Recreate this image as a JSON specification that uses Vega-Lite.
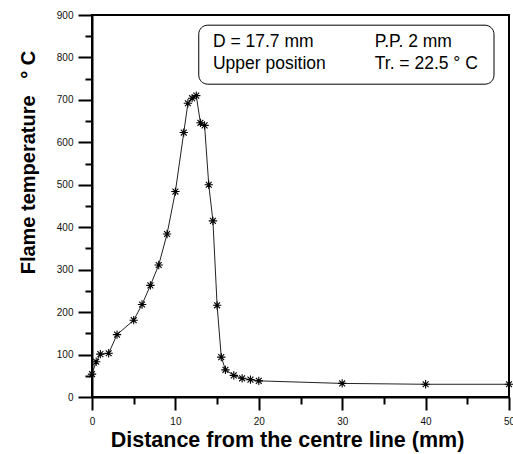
{
  "$schema": "https://vega.github.io/schema/vega-lite/v6.json",
  "width": 417,
  "height": 382,
  "autosize": "none",
  "padding": {"left": 92, "top": 15, "right": 4, "bottom": 57},
  "background": "white",
  "config": {
    "view": {"stroke": "black", "strokeWidth": 2},
    "font": "Liberation Sans"
  },
  "encoding": {
    "x": {
      "field": "d", "type": "quantitative",
      "scale": {"domain": [0, 50], "nice": false, "zero": false},
      "axis": {
        "title": "Distance from the centre line (mm)",
        "titleFontSize": 21.5, "titleFontWeight": "bold", "titleColor": "black", "titlePadding": 3,
        "titleX": 195,
        "values": [0, 5, 10, 15, 20, 25, 30, 35, 40, 45, 50],
        "labelExpr": "datum.value % 10 === 0 ? datum.label : ''",
        "labelFontSize": 10, "labelColor": "#111111", "labelPadding": 6,
        "labelFlush": false, "labelOverlap": false,
        "tickSize": {"condition": {"test": "datum.value % 10 === 0", "value": 13}, "value": 7},
        "tickWidth": 2, "tickColor": "black",
        "domainColor": "black", "domainWidth": 2, "grid": false
      }
    },
    "y": {
      "field": "t", "type": "quantitative",
      "scale": {"domain": [0, 900], "nice": false},
      "axis": {
        "title": "Flame temperature\u00a0\u00a0\u00a0°\u00a0C",
        "titleFontSize": 20, "titleFontWeight": "bold", "titleColor": "black", "titlePadding": 18,
        "titleY": 147,
        "values": [0, 50, 100, 150, 200, 250, 300, 350, 400, 450, 500, 550, 600, 650, 700, 750, 800, 850, 900],
        "labelExpr": "datum.value % 100 === 0 ? datum.label : ''",
        "labelFontSize": 10, "labelColor": "#111111", "labelPadding": 5,
        "labelFlush": false, "labelOverlap": false,
        "tickSize": {"condition": {"test": "datum.value % 100 === 0", "value": 14}, "value": 7},
        "tickWidth": 2, "tickColor": "black",
        "domainColor": "black", "domainWidth": 2, "grid": false
      }
    }
  },
  "layer": [
    {
      "data": {"name": "temps", "values": [
        {"d": 0, "t": 54}, {"d": 0.5, "t": 83}, {"d": 1, "t": 101}, {"d": 2, "t": 103},
        {"d": 3, "t": 147}, {"d": 5, "t": 181}, {"d": 6, "t": 218}, {"d": 7, "t": 263},
        {"d": 8, "t": 311}, {"d": 9, "t": 384}, {"d": 10, "t": 484}, {"d": 11, "t": 623},
        {"d": 11.5, "t": 692}, {"d": 12, "t": 704}, {"d": 12.5, "t": 710}, {"d": 13, "t": 646},
        {"d": 13.5, "t": 640}, {"d": 14, "t": 500}, {"d": 14.5, "t": 415}, {"d": 15, "t": 216},
        {"d": 15.5, "t": 94}, {"d": 16, "t": 64}, {"d": 17, "t": 51}, {"d": 18, "t": 44},
        {"d": 19, "t": 41}, {"d": 20, "t": 38}, {"d": 30, "t": 32}, {"d": 40, "t": 30}, {"d": 50, "t": 30}
      ]},
      "mark": {"type": "line", "color": "#222222", "strokeWidth": 1}
    },
    {
      "data": {"name": "temps"},
      "mark": {
        "type": "point",
        "shape": "M-1,0L1,0M0,-1L0,1M-0.7,-0.7L0.7,0.7M-0.7,0.7L0.7,-0.7",
        "filled": false, "stroke": "black", "strokeWidth": 1.1, "size": 70, "opacity": 1
      }
    },
    {
      "data": {"values": [{"d": 12.8, "d2": 48.2, "t": 737, "t2": 876}]},
      "mark": {"type": "rect", "fillOpacity": 0, "stroke": "black", "strokeWidth": 1, "cornerRadius": 9},
      "encoding": {
        "x2": {"field": "d2"},
        "y2": {"field": "t2"}
      }
    },
    {
      "data": {"values": [
        {"d": 14.5, "t": 824, "s": "D = 17.7 mm"},
        {"d": 33.9, "t": 824, "s": "P.P. 2 mm"},
        {"d": 14.5, "t": 773, "s": "Upper position"},
        {"d": 33.9, "t": 773, "s": "Tr. = 22.5\u00a0°\u00a0C"}
      ]},
      "mark": {"type": "text", "align": "left", "baseline": "alphabetic", "fontSize": 17.5, "color": "black"},
      "encoding": {
        "text": {"field": "s"}
      }
    }
  ]
}
